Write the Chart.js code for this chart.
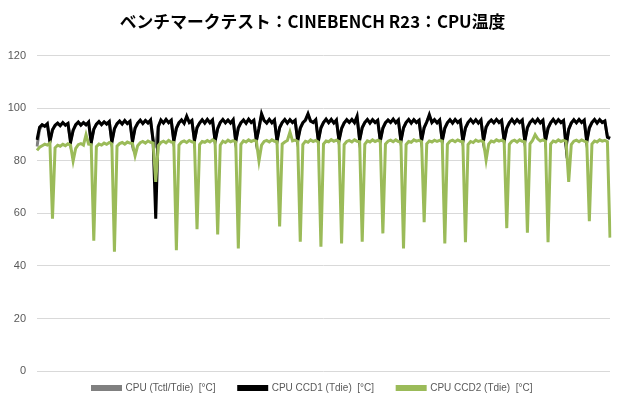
<!DOCTYPE html>
<html>
<head>
<meta charset="utf-8">
<script src="https://cdn.jsdelivr.net/npm/chart.js@4.4.1/dist/chart.umd.min.js"></script>
<style>
  html, body { margin: 0; padding: 0; background: #ffffff; }
  #wrap { width: 620px; height: 410px; }
</style>
</head>
<body>
<div id="wrap"><canvas id="myChart"></canvas></div>
<script>
// series names as in the legend
var seriesNames = ['CPU (Tctl/Tdie)  [°C]', 'CPU CCD1 (Tdie)  [°C]', 'CPU CCD2 (Tdie)  [°C]'];

// y axis ticks
var yTicks = [0, 20, 40, 60, 80, 100, 120];

// CPU (Tctl/Tdie), one row per benchmark pass
var tctl = [
    85.5, 92, 93.6, 93.4, 94, 87.8,
    92, 93.4, 94.2, 93.6, 94.4, 93.8, 94.1, 87.6,
    91.8, 93.6, 94.6, 93.8, 94.5, 93.9, 94.6, 87.4,
    92.2, 93.8, 94.8, 94, 94.8, 94.2, 94.8, 87.5,
    92.4, 94, 95, 94.2, 95.2, 94.4, 95, 87.8,
    92.6, 94.2, 95.3, 94.4, 95.3, 94.6, 95.4, 88,
    86, 93.2, 95.4, 94.6, 95.6, 94.7, 95.4, 88,
    92.6, 94.6, 95.4, 94.5, 96.6, 94.8, 95.3, 88.1,
    92.8, 94.5, 95.5, 94.6, 95.6, 94.7, 95.4, 88,
    92.5, 94.7, 95.6, 94.7, 95.5, 94.6, 95.5, 87.8,
    92.7, 94.6, 95.4, 94.5, 95.7, 94.8, 95.4, 88.2,
    92.6, 97.4, 95.3, 94.6, 95.6, 94.7, 95.4, 88,
    92.8, 94.7, 95.6, 94.6, 95.5, 94.8, 95.4, 88.2,
    92.6, 94.6, 95.4, 97.4, 95.1, 94.8, 95.5, 88,
    92.7, 94.7, 95.7, 94.7, 95.6, 94.6, 95.4, 88.1,
    92.5, 94.6, 95.5, 94.8, 95.6, 94.7, 96.5, 88.2,
    92.8, 94.7, 95.6, 94.6, 95.5, 94.8, 95.4, 88.1,
    92.6, 94.6, 95.4, 94.8, 95.7, 94.7, 95.4, 88,
    92.7, 94.7, 95.6, 94.6, 95.5, 94.8, 95.4, 88.2,
    92.8, 94.9, 97, 94.8, 95.5, 94.7, 95.4, 88,
    92.6, 94.6, 95.5, 94.6, 95.6, 94.8, 95.4, 88,
    92.7, 94.7, 95.6, 94.7, 95.5, 94.6, 95.4, 88.2,
    93, 94.7, 95.4, 94.7, 95.6, 94.8, 95.4, 88,
    92.6, 94.6, 95.6, 94.6, 95.5, 94.8, 95.4, 88,
    92.8, 94.7, 95.5, 94.7, 95.7, 94.7, 95.4, 88.2,
    92.6, 94.6, 95.6, 94.6, 95.5, 94.8, 95.3, 86.2,
    92.2, 94.5, 95.5, 94.7, 95.6, 94.8, 95.4, 87.8,
    92.7, 94.7, 95.6, 94.6, 95.5, 94.8, 95.1, 89.4,
    88.8
];

// CPU CCD1 (Tdie)
var ccd1 = [
    88, 92.8, 93.8, 93.2, 94.2, 87.2,
    91.8, 93.6, 94.4, 93.4, 94.6, 93.6, 94.3, 87,
    91.6, 93.8, 94.8, 93.6, 94.6, 93.7, 94.8, 86.8,
    92, 94, 95, 93.8, 94.9, 94, 95, 87,
    92.2, 94.2, 95.2, 94, 95.4, 94.2, 95.1, 87.2,
    92.4, 94.4, 95.5, 94.2, 95.4, 94.4, 95.6, 87.5,
    58, 93, 95.6, 94.4, 95.8, 94.5, 95.5, 87.4,
    92.4, 94.5, 95.6, 94.3, 97, 94.6, 95.4, 87.6,
    92.6, 94.4, 95.7, 94.4, 95.8, 94.5, 95.6, 87.4,
    92.3, 94.6, 95.8, 94.5, 95.6, 94.4, 95.7, 87.2,
    92.5, 94.5, 95.6, 94.3, 95.9, 94.6, 95.5, 87.6,
    92.4, 98, 95.4, 94.4, 95.8, 94.5, 95.6, 87.4,
    92.6, 94.6, 95.8, 94.4, 95.7, 94.6, 95.5, 87.6,
    92.4, 94.5, 95.6, 98, 95.2, 94.6, 95.7, 87.4,
    92.5, 94.6, 95.9, 94.5, 95.8, 94.4, 95.6, 87.6,
    92.3, 94.4, 95.7, 94.6, 95.8, 94.5, 97, 87.8,
    92.6, 94.6, 95.8, 94.4, 95.7, 94.6, 95.5, 87.5,
    92.4, 94.5, 95.6, 94.6, 95.9, 94.5, 95.6, 87.4,
    92.5, 94.6, 95.8, 94.4, 95.7, 94.6, 95.5, 87.6,
    92.6, 94.8, 97.6, 94.6, 95.7, 94.5, 95.6, 87.5,
    92.4, 94.5, 95.7, 94.4, 95.8, 94.6, 95.5, 87.4,
    92.5, 94.6, 95.8, 94.5, 95.7, 94.4, 95.6, 87.6,
    92.8, 94.6, 95.6, 94.5, 95.8, 94.6, 95.5, 87.5,
    92.4, 94.5, 95.8, 94.4, 95.7, 94.6, 95.6, 87.4,
    92.6, 94.6, 95.7, 94.5, 95.9, 94.5, 95.5, 87.6,
    92.4, 94.5, 95.8, 94.4, 95.7, 94.6, 95.4, 85.4,
    92, 94.4, 95.7, 94.5, 95.8, 94.6, 95.5, 87.2,
    92.5, 94.6, 95.8, 94.4, 95.7, 94.6, 95.2, 89,
    88.5
];

// CPU CCD2 (Tdie)
var ccd2 = [
    84, 85.2, 85.8, 86.4, 86, 86.8,
    58, 85, 86, 85.6, 86.3, 85.8, 86.5, 86,
    80, 84.8, 86.2, 86.6, 86, 90, 86.4, 86.2,
    49.6, 85.4, 86.4, 86, 86.8, 86.3, 87, 86.5,
    45.4, 85.6, 86.6, 87, 86.4, 87.2, 86.8, 86.6,
    82, 85.8, 86.9, 87.4, 86.8, 87.6, 87.1, 86.8,
    72, 85.8, 87, 87.5, 86.9, 87.8, 87.2, 87,
    46, 86, 87.2, 87.6, 87, 87.8, 87.3, 87,
    54, 86.2, 87.4, 87.1, 87.8, 87.2, 88, 87.4,
    52, 86, 87.5, 87, 87.9, 87.3, 87.7, 87.2,
    46.7, 86.3, 87.6, 87.2, 88, 87.4, 87.8, 87.5,
    80, 86, 87.4, 87.8, 87.2, 88, 87.5, 87.3,
    55, 86.4, 87.2, 87.8, 91, 87.6, 87.9, 87.4,
    49.2, 86.2, 87.5, 87.1, 88, 87.4, 87.8, 87.2,
    47.3, 86.4, 87.6, 87.3, 88.1, 87.5, 87.9, 87.4,
    48.6, 86.2, 87.4, 87.8, 87.2, 88, 87.5, 87.3,
    49.2, 86.3, 87.6, 87.2, 88, 87.4, 87.8, 87.5,
    52.4, 86.4, 87.5, 87.9, 87.3, 88, 87.4, 87.2,
    46.7, 86.2, 87.4, 87.1, 88, 87.5, 87.8, 87.3,
    56.7, 86.5, 87.6, 87.2, 87.9, 87.4, 87.8, 87.5,
    48.6, 86.3, 87.5, 87.9, 87.3, 88, 87.5, 87.3,
    49, 86.2, 87.4, 87, 87.9, 87.4, 87.7, 87.2,
    80.3, 86.4, 87.6, 87.2, 88, 87.5, 87.9, 87.4,
    54.4, 86.3, 87.5, 87.9, 87.2, 88, 87.5, 87.3,
    52.7, 86.5, 87.8, 90, 88.4, 87.6, 88, 87.5,
    49, 86.4, 87.6, 87.2, 88, 87.4, 87.8, 87.4,
    72, 86.2, 87.5, 87.9, 87.3, 88, 87.5, 87.2,
    57, 86.4, 87.6, 87.2, 88, 87.5, 87.8, 87.3,
    50.8
];

// sample number for each log line (x axis has no labels in the picture)
var samples = ccd2.map(function (v, i) { return i + 1; });

var colors = ['#808080', '#000000', '#9bbb59'];

function createChart() {
    var ctx = document.getElementById("myChart").getContext("2d");
    var series = [tctl, ccd1, ccd2];
    var datasets = series.map(function (values, i) {
        return {
            label: seriesNames[i],
            data: values,
            borderColor: colors[i],
            backgroundColor: colors[i],
            borderWidth: 3,
            pointRadius: 0,
            tension: 0,
            order: 3 - i // green on top, like the original
        };
    });

    new Chart(ctx, {
        type: 'line',
        data: { labels: samples, datasets: datasets },
        options: {
            responsive: true,
            maintainAspectRatio: false,
            animation: false,
            // title and legend sit a little right of the canvas centre in the original
            layout: { padding: { left: 5, right: 0, top: 0, bottom: 7 } },
            plugins: {
                title: {
                    display: true,
                    text: 'ベンチマークテスト：CINEBENCH R23：CPU温度',
                    color: '#000000',
                    font: { family: "'Noto Sans CJK JP', sans-serif", size: 16.8, weight: 'bold' },
                    padding: { top: 12, bottom: 23.7 }
                },
                legend: {
                    position: 'bottom',
                    labels: {
                        boxWidth: 28,
                        boxHeight: 3,
                        padding: 12,
                        color: '#595959',
                        font: { family: "'Liberation Sans', sans-serif", size: 10 },
                        // wider gap after the first two entries (padding would also add height)
                        generateLabels: function (chart) {
                            var items = Chart.defaults.plugins.legend.labels.generateLabels(chart);
                            items.forEach(function (item) {
                                if (item.datasetIndex < 2) item.text += '\u00a0\u00a0\u00a0\u00a0';
                            });
                            return items;
                        },
                        sort: function (a, b) { return a.datasetIndex - b.datasetIndex; }
                    }
                },
                tooltip: { enabled: false }
            },
            scales: {
                x: { display: false },
                y: {
                    min: 0,
                    max: 120,
                    afterBuildTicks: function (scale) {
                        scale.ticks = yTicks.map(function (v) { return { value: v }; });
                    },
                    afterFit: function (scale) { scale.width = 32; },
                    border: { display: false },
                    grid: { color: '#d9d9d9', lineWidth: 1, drawTicks: false },
                    ticks: {
                        color: '#595959',
                        padding: 11,
                        font: { family: "'Liberation Sans', sans-serif", size: 11 }
                    }
                },
                // empty right-hand strip so the plot ends where the original does
                yRight: {
                    position: 'right',
                    afterFit: function (scale) { scale.width = 10; },
                    border: { display: false },
                    grid: { display: false, drawTicks: false },
                    ticks: { display: false }
                }
            }
        }
    });
}

createChart();
</script>
</body>
</html>
